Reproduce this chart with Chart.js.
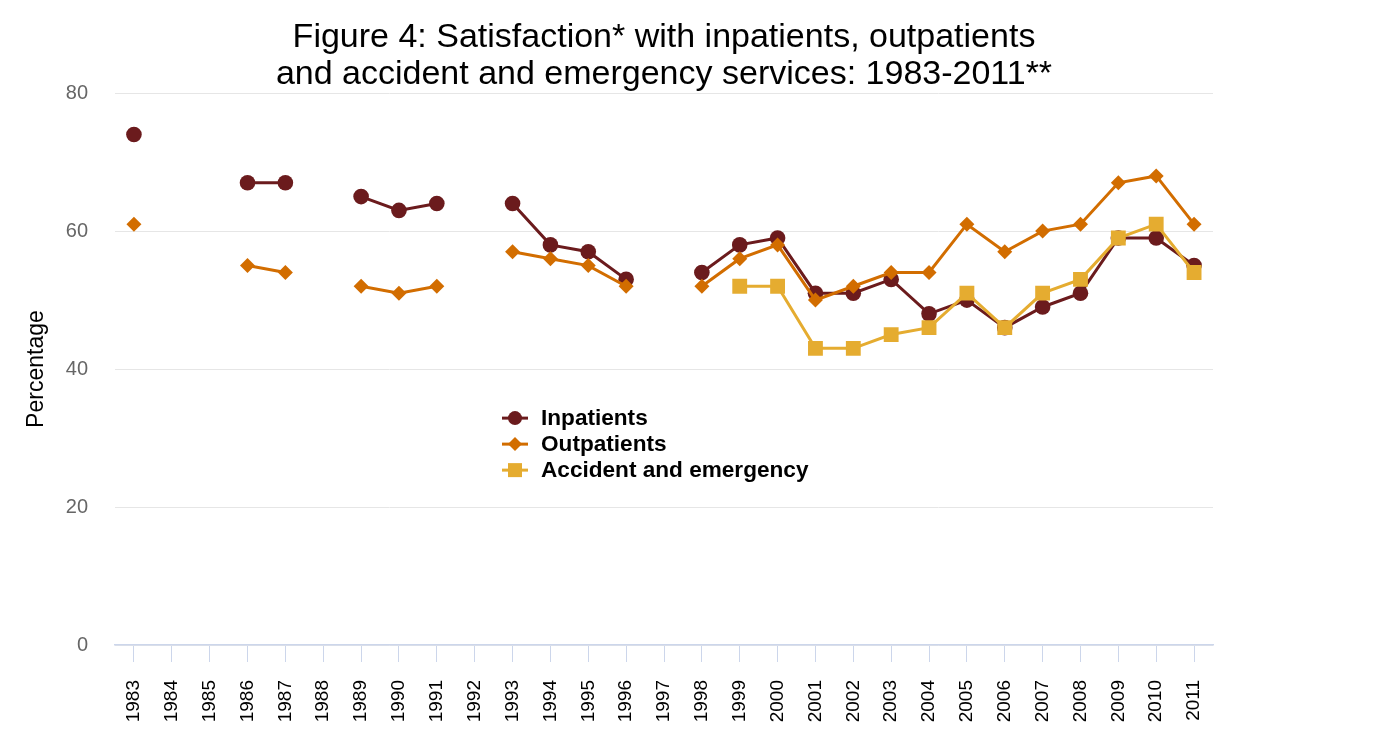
<!DOCTYPE html>
<html>
<head>
<meta charset="utf-8">
<script src="https://cdn.jsdelivr.net/npm/chart.js@4.4.1/dist/chart.umd.min.js"></script>
<style>
html, body { margin: 0; padding: 0; background: #fff; }
#wrap { width: 1400px; height: 747px; }
</style>
</head>
<body>
<div id="wrap"><canvas id="chart" width="1400" height="747"></canvas></div>
<script>
const years = ['1983','1984','1985','1986','1987','1988','1989','1990','1991','1992','1993','1994','1995','1996','1997',
               '1998','1999','2000','2001','2002','2003','2004','2005','2006','2007','2008','2009','2010','2011'];

const inpatients  = [74, null, null, 67, 67, null, 65, 63, 64, null, 64, 58, 57, 53, null,
                     54, 58, 59, 51, 51, 53, 48, 50, 46, 49, 51, 59, 59, 55];
const outpatients = [61, null, null, 55, 54, null, 52, 51, 52, null, 57, 56, 55, 52, null,
                     52, 56, 58, 50, 52, 54, 54, 61, 57, 60, 61, 67, 68, 61];
const accident    = [null, null, null, null, null, null, null, null, null, null, null, null, null, null, null,
                     null, 52, 52, 43, 43, 45, 46, 51, 46, 51, 53, 59, 61, 54];

const yTicks = [0, 20, 40, 60, 80];
const titleLines = ['Figure 4: Satisfaction* with inpatients, outpatients',
                    'and accident and emergency services: 1983-2011**'];

const FONT = "'Liberation Sans', Arial, Helvetica, sans-serif";

// legend drawn inside the plot, like the original
const legendBox = {
    id: 'legendBox',
    afterDatasetsDraw(chart) {
        const ctx = chart.ctx;
        const area = chart.chartArea;
        const x0 = area.left + 387;
        const y0 = area.top + 325;
        chart.data.datasets.forEach((ds, i) => {
            const y = y0 + i * 26;
            const cx = x0 + 13;
            ctx.save();
            ctx.strokeStyle = ds.borderColor;
            ctx.fillStyle = ds.borderColor;
            ctx.lineWidth = 3;
            ctx.beginPath();
            ctx.moveTo(x0, y);
            ctx.lineTo(x0 + 26, y);
            ctx.stroke();
            ctx.beginPath();
            if (ds.pointStyle === 'circle') {
                ctx.arc(cx, y, 7, 0, Math.PI * 2);
            } else if (ds.pointStyle === 'rectRot') {
                ctx.moveTo(cx, y - 7); ctx.lineTo(cx + 7, y); ctx.lineTo(cx, y + 7); ctx.lineTo(cx - 7, y);
                ctx.closePath();
            } else {
                ctx.rect(cx - 7, y - 7, 14, 14);
            }
            ctx.fill();
            ctx.fillStyle = '#000';
            ctx.font = 'bold 22.6px ' + FONT;
            ctx.textBaseline = 'middle';
            ctx.textAlign = 'left';
            ctx.fillText(ds.label, x0 + 39, y + 1);
            ctx.restore();
        });
    }
};

new Chart(document.getElementById('chart'), {
    type: 'line',
    data: {
        labels: years,
        datasets: [
            {
                label: 'Inpatients',
                data: inpatients,
                borderColor: '#6b1b1d',
                backgroundColor: '#6b1b1d',
                borderWidth: 3,
                pointStyle: 'circle',
                pointRadius: 7.8,
                pointBorderWidth: 0,
                order: 3
            },
            {
                label: 'Outpatients',
                data: outpatients,
                borderColor: '#d26d00',
                backgroundColor: '#d26d00',
                borderWidth: 3,
                pointStyle: 'rectRot',
                pointRadius: 7.5,
                pointBorderWidth: 0,
                order: 2
            },
            {
                label: 'Accident and emergency',
                data: accident,
                borderColor: '#e5ac30',
                backgroundColor: '#e5ac30',
                borderWidth: 3,
                pointStyle: 'rect',
                pointRadius: 10.5,
                pointBorderWidth: 0,
                order: 1
            }
        ]
    },
    options: {
        responsive: false,
        animation: false,
        spanGaps: false,
        layout: { padding: { left: 0, right: 187, top: 0, bottom: 0 } },
        scales: {
            x: {
                type: 'category',
                offset: true,
                grid: { drawOnChartArea: false, drawTicks: true, tickLength: 17, color: '#ccd6eb', offset: false },
                border: { color: '#ccd6eb', width: 1.5 },
                ticks: {
                    autoSkip: false, minRotation: 90, maxRotation: 90, padding: 18,
                    color: '#000', font: { family: FONT, size: 19 }
                },
                afterFit(scale) { scale.height = 102; }
            },
            y: {
                min: 0,
                max: 80,
                afterBuildTicks(scale) { scale.ticks = yTicks.map(v => ({ value: v })); },
                grid: { color: '#e6e6e6', drawTicks: false },
                border: { display: false },
                ticks: { padding: 27, color: '#666', font: { family: FONT, size: 20 } },
                title: {
                    display: true, text: 'Percentage', color: '#000',
                    font: { family: FONT, size: 23 }, padding: { top: 23, bottom: 0 }
                },
                afterFit(scale) { scale.width = 115; }
            }
        },
        plugins: {
            legend: { display: false },
            tooltip: { enabled: false },
            title: {
                display: true,
                text: titleLines,
                fullSize: false,
                color: '#000',
                font: { family: FONT, size: 34, weight: 'normal', lineHeight: 1.09 },
                padding: { top: 19, bottom: 0 }
            }
        }
    },
    plugins: [legendBox]
});
</script>
</body>
</html>
